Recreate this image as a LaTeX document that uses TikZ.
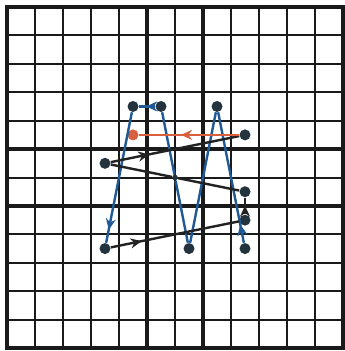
\documentclass[tikz,border=0pt]{standalone}
\usetikzlibrary{arrows.meta,decorations.markings}
\definecolor{gridc}{HTML}{1A1A1A}
\definecolor{pathblue}{HTML}{1F5A96}
\definecolor{pathblack}{HTML}{222222}
\definecolor{dotc}{HTML}{24343E}
\definecolor{redc}{HTML}{D9603F}
\tikzset{
  thingrid/.style={draw=gridc, line width=1pt},
  thickgrid/.style={draw=gridc, line width=2pt},
  dot/.style={circle, fill=dotc, inner sep=0pt, minimum size=5.5pt},
  smalldot/.style={circle, fill=dotc, inner sep=0pt, minimum size=2.8pt},
  reddot/.style={circle, fill=redc, inner sep=0pt, minimum size=5.5pt},
  blueseg/.style={draw=pathblue, line width=1.2pt},
  blackseg/.style={draw=pathblack, line width=1.2pt},
  redseg/.style={draw=redc, line width=1.3pt},
  arrowat/.style={postaction={decorate}, decoration={markings,
    mark=at position #1 with {\arrow{Stealth[length=5.5pt,width=5pt]}}}}
}
\begin{document}
\begin{tikzpicture}[x=14pt,y=-14.21pt]
\useasboundingbox (-0.25,-0.2463) rectangle (12.036,12.104);
\fill[white] (-0.25,-0.2463) rectangle (12.036,12.104);
\foreach \i in {1,2,3,4,6,8,9,10,11} {
  \draw[thingrid] (\i,0) -- (\i,12);
  \draw[thingrid] (0,\i) -- (12,\i);
}
\foreach \i in {5,7} {
  \draw[thickgrid] (\i,0) -- (\i,12);
  \draw[thickgrid] (0,\i) -- (12,\i);
}
\draw[thickgrid] (0,0) rectangle (12,12);

% points
\node[dot] (A) at (4.5,3.5) {};
\node[dot] (B) at (5.5,3.5) {};
\node[dot] (C) at (7.5,3.5) {};
\node[dot] (R1) at (8.5,4.5) {};
\node[reddot] (R0) at (4.5,4.5) {};
\node[dot] (D) at (3.5,5.5) {};
\node[smalldot] (E) at (6,6) {};
\node[dot] (F) at (8.5,6.5) {};
\node[dot] (G) at (8.5,7.5) {};
\node[dot] (H) at (3.5,8.5) {};
\node[dot] (I) at (6.5,8.5) {};
\node[dot] (J) at (8.5,8.5) {};

% blue part
\draw[blueseg, arrowat=0.14] (J) -- (C);
\draw[blueseg] (C) -- (I);
\draw[blueseg] (I) -- (E) -- (B);
\draw[blueseg, arrowat=0.55] (B) -- (A);
\draw[blueseg, arrowat=0.9] (A) -- (H);
% black part
\draw[blackseg, arrowat=0.24] (H) -- (G);
\draw[blackseg, arrowat=0.52] (G) -- (F);
\draw[blackseg] (F) -- (E) -- (D);
\draw[blackseg, arrowat=0.3] (D) -- (R1);
% red
\draw[redseg, arrowat=0.58] (R1) -- (R0);
\end{tikzpicture}
\end{document}
